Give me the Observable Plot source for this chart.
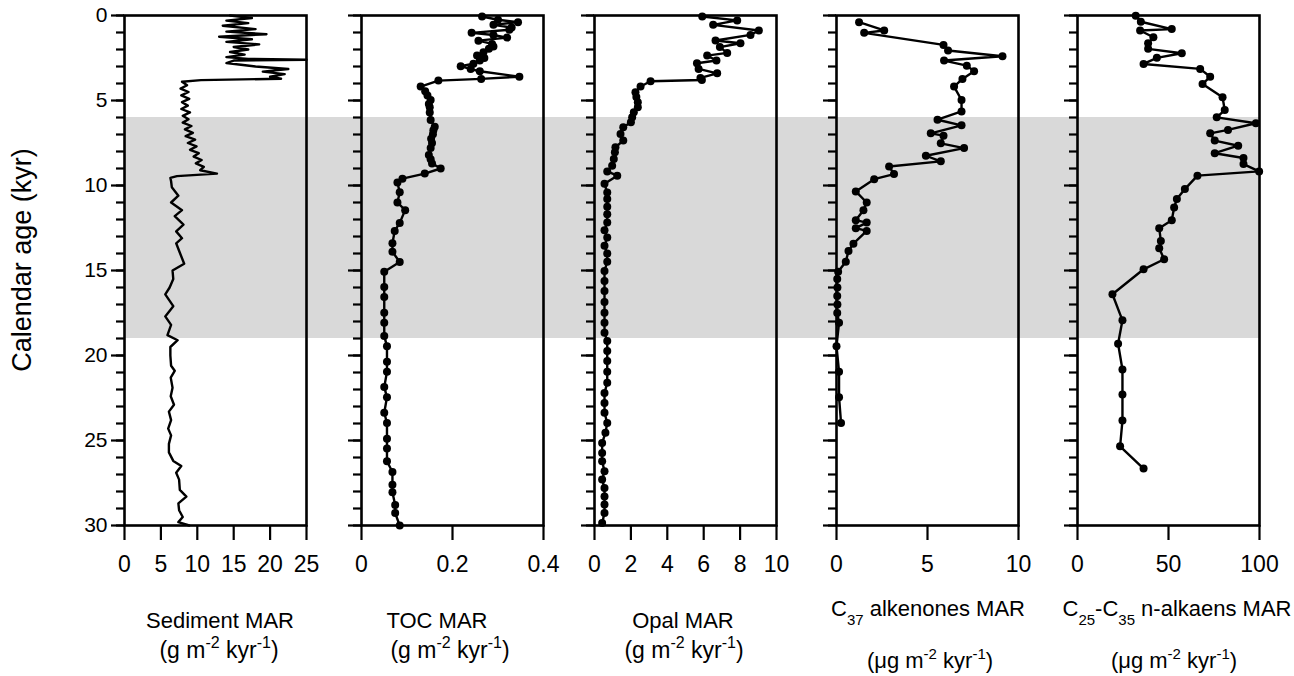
<!DOCTYPE html>
<html>
<head>
<meta charset="utf-8">
<script src="https://cdn.jsdelivr.net/npm/d3@7"></script>
<script src="https://cdn.jsdelivr.net/npm/@observablehq/plot@0.6"></script>
<style>
  body { margin: 0; background: white; }
  #chart { position: relative; width: 1294px; height: 676px; font-family: "Liberation Sans", Arial, sans-serif; color: black; }
  #chart svg { position: absolute; top: 0; }
  .ttl { position: absolute; width: 340px; text-align: center; font-size: 22px; line-height: 1; white-space: nowrap; }
  .ttl sup { font-size: 15px; vertical-align: 9px; line-height: 0; }
  .ttl sub { font-size: 15px; vertical-align: -9px; line-height: 0; }
  .ttl.big { font-size: 23px; }
  .ttl.big sup { font-size: 16px; vertical-align: 10px; }
</style>
</head>
<body>
<div id="chart"></div>
<script>
// ---- data (age in kyr) ----
const bandAges = [6, 19];

const sedAge = [0.0,0.15,0.3,0.45,0.6,0.8,0.95,1.1,1.25,1.4,1.55,1.7,1.85,2.0,2.15,2.3,2.45,2.55,2.6,2.65,2.8,2.9,3.0,3.15,3.3,3.45,3.6,3.72,3.8,3.9,
  4.1,4.3,4.5,4.7,4.9,5.1,5.3,5.5,5.7,5.9,6.1,6.3,6.5,6.7,6.9,7.1,7.3,7.5,7.7,7.9,8.1,8.3,8.5,8.7,8.9,9.1,9.3,9.45,9.55,9.75,
  10.1,10.6,11.0,11.45,11.8,12.3,12.7,13.1,13.4,13.9,14.6,15.0,15.5,16.0,16.4,17.1,17.7,18.2,18.8,19.1,19.5,20.0,20.6,20.9,21.3,21.9,22.4,22.9,23.3,23.8,24.3,24.7,25.2,25.7,26.2,26.5,26.9,27.3,27.9,28.3,28.7,29.1,29.5,29.8,30.0];
const sedMAR = [14.5,17.5,14,17,13.5,18,14,19.5,13,17.5,14,18.5,15,17,14.5,16.5,14,17,25,15,14,16,18,22.5,19,22,20,21.5,10.5,7.9,
  8.6,7.7,8.8,7.8,8.9,7.9,8.7,7.8,9.0,8.0,8.8,8.0,9.2,8.3,9.4,8.4,9.7,8.7,9.9,9.0,10.2,9.5,10.6,9.8,10.9,10.4,12.7,7.2,6.3,6.4,
  6.5,7.4,6.4,7.9,6.9,8.1,7.1,7.9,7.1,7.55,8.2,6.6,6.7,6.2,5.6,6.7,5.6,6.4,5.9,7.3,6.3,6.3,6.4,6.9,6.35,6.6,6.35,6.8,6.1,6.4,6.0,6.4,6.1,6.1,6.7,7.8,7.1,7.5,7.6,8.5,7.4,7.5,8.0,7.4,8.9];

const tocAge = [0.06,0.25,0.39,0.55,0.7,0.84,1.02,1.15,1.3,1.48,1.67,1.82,1.96,2.16,2.36,2.5,2.65,2.84,2.98,3.15,3.28,3.6,3.73,3.83,4.18,4.45,4.7,4.97,5.2,5.4,5.7,6.15,6.55,6.75,6.98,7.25,7.5,7.8,8.2,8.45,8.7,9.0,9.3,9.6,9.82,10.4,11.0,11.45,12.2,12.67,13.4,13.9,14.5,15.07,15.97,16.56,17.48,18.07,18.86,19.45,20.37,20.96,21.86,22.45,23.37,23.97,24.89,25.47,26.22,26.85,27.6,28.05,28.8,29.27,30.0];
const tocMAR = [0.265,0.30,0.344,0.29,0.33,0.325,0.242,0.29,0.32,0.257,0.287,0.29,0.28,0.268,0.254,0.27,0.26,0.246,0.218,0.24,0.26,0.347,0.263,0.169,0.13,0.14,0.145,0.152,0.148,0.15,0.15,0.152,0.161,0.158,0.157,0.153,0.155,0.152,0.148,0.152,0.155,0.174,0.139,0.09,0.079,0.084,0.079,0.096,0.084,0.073,0.068,0.068,0.084,0.05,0.05,0.05,0.05,0.05,0.05,0.056,0.056,0.056,0.05,0.056,0.05,0.056,0.056,0.056,0.056,0.068,0.068,0.068,0.074,0.074,0.084];

const opalAge = [0.06,0.29,0.55,0.88,1.14,1.47,1.63,1.86,2.2,2.36,2.65,2.81,3.14,3.4,3.67,3.79,3.87,4.18,4.51,4.8,5.1,5.4,5.69,5.99,6.28,6.58,6.97,7.36,7.75,8.05,8.44,8.84,9.17,9.42,9.9,10.41,10.8,11.25,11.69,12.18,12.63,13.06,13.55,14.0,14.48,15.03,15.62,16.2,16.85,17.48,18.07,18.66,19.15,19.74,20.33,20.96,21.6,22.2,22.79,23.37,23.97,24.55,25.14,25.73,26.22,26.81,27.3,27.8,28.29,28.77,29.27,29.86];
const opalMAR = [5.92,7.84,6.52,9.03,8.57,6.65,8.02,6.89,7.29,6.19,6.7,5.63,5.72,6.74,5.82,5.9,3.08,2.53,2.25,2.3,2.38,2.38,2.16,2.07,2.0,1.58,1.43,1.58,1.15,1.12,1.06,0.97,0.7,1.25,0.55,0.7,0.7,0.7,0.7,0.7,0.55,0.7,0.55,0.7,0.7,0.55,0.55,0.55,0.55,0.55,0.55,0.55,0.7,0.7,0.7,0.7,0.7,0.55,0.55,0.55,0.7,0.6,0.42,0.42,0.42,0.55,0.42,0.55,0.55,0.55,0.55,0.42];

const alkAge = [0.39,0.88,1.02,1.73,2.06,2.4,2.65,2.95,3.28,3.73,4.18,4.97,5.64,6.13,6.46,6.93,7.07,7.52,7.8,8.25,8.58,8.88,9.33,9.63,10.35,11.0,11.45,12.04,12.18,12.51,12.67,13.42,13.85,14.48,15.07,15.5,16.0,16.5,17.0,17.5,18.07,19.45,20.96,22.45,23.97];
const alkMAR = [1.24,2.62,1.52,5.88,6.13,9.12,5.91,7.16,7.56,6.92,6.46,6.87,6.87,5.55,6.87,5.18,5.88,5.73,7.01,4.91,5.73,2.89,3.16,2.07,1.06,1.66,1.48,1.06,1.66,1.06,1.66,0.93,0.66,0.51,0.09,0.04,0.05,0.04,0.05,0.04,0.14,0.0,0.14,0.14,0.25];

const nalkAge = [0.01,0.37,0.8,0.88,1.28,1.63,1.96,2.22,2.49,2.85,3.14,3.6,4.03,4.81,5.56,5.99,6.34,6.73,6.93,7.36,7.66,8.1,8.38,8.74,9.17,9.42,10.21,10.8,11.29,12.04,12.51,13.26,13.69,14.34,14.93,16.4,17.93,19.31,20.82,22.3,23.83,25.34,26.65];
const nalkMAR = [32.0,34.8,51.8,34.4,41.7,38.8,38.8,57.3,43.6,36.3,67.4,72.9,68.7,79.7,80.9,76.5,98.0,82.7,72.9,75.4,88.3,75.4,91.2,91.2,99.8,65.9,59.0,54.6,53.1,51.8,44.9,45.8,44.9,47.6,36.3,19.2,24.7,22.3,24.7,24.7,24.7,23.4,36.3];

const yMinor = d3.range(0, 31, 1);
const yMajor = d3.range(0, 31, 5);

// ---- layout ----
const H = 600, TOP = 15, BOTTOM_Y = 525;
const chart = document.getElementById("chart");
const svgStyle = {background: "transparent", overflow: "visible", position: "absolute", top: "0px"};

// background band spanning all panels
{
  const bg = Plot.plot({
    width: 1294, height: H,
    marginTop: TOP, marginBottom: H - BOTTOM_Y, marginLeft: 124, marginRight: 1294 - 1259,
    x: {domain: [0, 1], axis: null},
    y: {domain: [0, 30], reverse: true, axis: null},
    style: {...svgStyle, left: "0px"},
    marks: [
      Plot.rect([{y1: bandAges[0], y2: bandAges[1]}], {x1: () => 0, x2: () => 1, y1: "y1", y2: "y2", fill: "#d9d9d9"})
    ]
  });
  bg.style.left = "0px";
  chart.appendChild(bg);
}

const panels = [
  {left: 124, right: 305.7, domain: [0, 25], ticks: [0,5,10,15,20,25], fmt: d => String(d), age: sedAge, val: sedMAR, dots: false, labels: true},
  {left: 360.7, right: 543, domain: [0, 0.4], ticks: [0,0.2,0.4], fmt: d => d === 0 ? "0" : d3.format(".1f")(d), age: tocAge, val: tocMAR, dots: true},
  {left: 594, right: 776, domain: [0, 10], ticks: [0,2,4,6,8,10], fmt: d => String(d), age: opalAge, val: opalMAR, dots: true},
  {left: 835.7, right: 1017.7, domain: [0, 10], ticks: [0,5,10], fmt: d => String(d), age: alkAge, val: alkMAR, dots: true},
  {left: 1076.7, right: 1258.7, domain: [0, 100], ticks: [0,50,100], fmt: d => String(d), age: nalkAge, val: nalkMAR, dots: true}
];

for (const p of panels) {
  const mL = 70, mR = 30;
  const data = p.age.map((a, i) => ({age: a, v: p.val[i]}));
  const marks = [
    Plot.axisY(yMinor, {tickSize: 8, strokeWidth: 2.2, tickFormat: () => "", label: null}),
    Plot.axisY(yMajor, {tickSize: 13, strokeWidth: 2.2, tickFormat: p.labels ? (d => String(d)) : () => "", tickPadding: 4, fontSize: 21, label: null}),
    Plot.axisX(p.ticks, {tickSize: 15, strokeWidth: 2.2, tickFormat: p.fmt, tickPadding: 15, fontSize: 23, label: null}),
    Plot.line(data, {x: "v", y: "age", stroke: "black", strokeWidth: 2.4}),
  ];
  if (p.dots) marks.push(Plot.dot(data, {x: "v", y: "age", r: 4, fill: "black", stroke: "none"}));
  marks.push(Plot.frame({stroke: "black", strokeWidth: 2.6}));
  const svg = Plot.plot({
    width: Math.round(p.right - p.left) + mL + mR, height: H,
    marginTop: TOP, marginBottom: H - BOTTOM_Y, marginLeft: mL, marginRight: mR,
    x: {domain: p.domain},
    y: {domain: [0, 30], reverse: true},
    style: {...svgStyle, fontFamily: "Liberation Sans, Arial, sans-serif", fontSize: "21px", color: "black"},
    marks
  });
  svg.style.left = (p.left - mL) + "px";
  chart.appendChild(svg);
}

// titles
function title(cx, top, html, cls) {
  const d = document.createElement("div");
  d.className = "ttl" + (cls ? " " + cls : "");
  d.style.left = (cx - 170) + "px";
  d.style.top = top + "px";
  d.innerHTML = html;
  chart.appendChild(d);
}
title(220, 610, "Sediment MAR");
title(219, 639, "(g m<sup>-2</sup> kyr<sup>-1</sup>)", "big");
title(437, 610, "TOC MAR");
title(450, 639, "(g m<sup>-2</sup> kyr<sup>-1</sup>)", "big");
title(683, 610, "Opal MAR");
title(684, 639, "(g m<sup>-2</sup> kyr<sup>-1</sup>)", "big");
title(928, 598, "C<sub>37</sub> alkenones MAR");
title(930, 650, "(μg m<sup>-2</sup> kyr<sup>-1</sup>)");
title(1177, 598, "C<sub>25</sub>-C<sub>35</sub> n-alkaens MAR");
title(1174, 650, "(μg m<sup>-2</sup> kyr<sup>-1</sup>)");

// y label
{
  const d = document.createElement("div");
  d.textContent = "Calendar age (kyr)";
  d.style.cssText = "position:absolute;left:22px;top:260px;font-size:27px;white-space:nowrap;transform:translate(-50%,-50%) rotate(-90deg);";
  chart.appendChild(d);
}
</script>
</body>
</html>
